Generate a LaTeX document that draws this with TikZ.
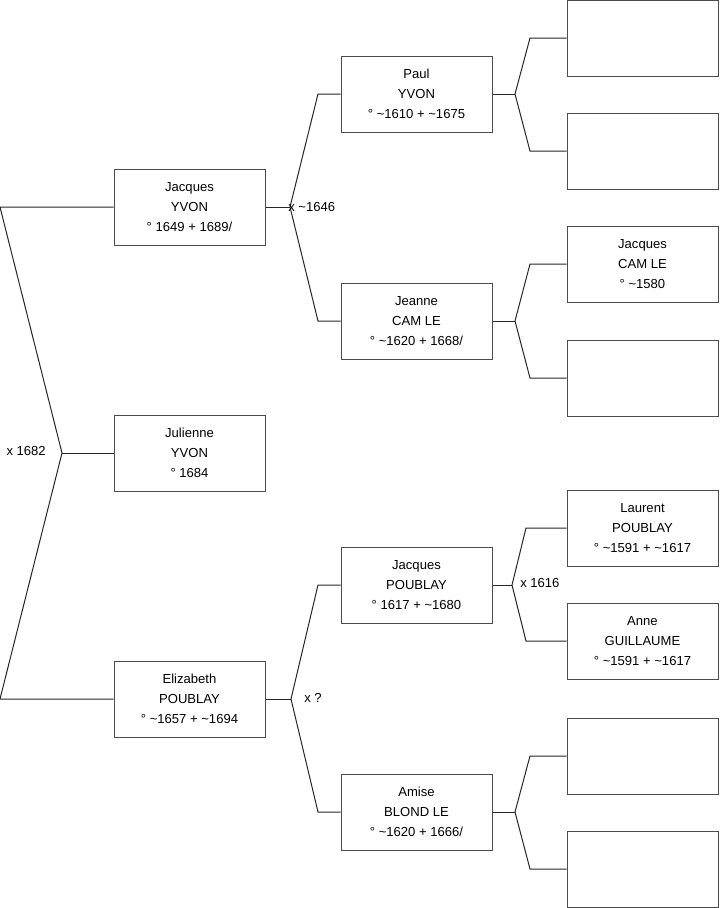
\documentclass[tikz,border=0pt]{standalone}
\usepackage{fontspec}
\setmainfont{Liberation Sans}
\usetikzlibrary{positioning}
\tikzset{
  person/.style={draw=black!70, fill=white, line width=0.75pt,
    minimum width=113.25pt, minimum height=57pt, inner sep=0pt,
    align=center, font=\fontsize{9.8}{15}\selectfont},
  link/.style={draw=black!85, line width=0.75pt},
  union/.style={font=\fontsize{9.8}{11}\selectfont, inner sep=0pt}
}
\begin{document}
\begin{tikzpicture}[x=0.75pt,y=-0.75pt]
\useasboundingbox (0,0) rectangle (719,908);
% generation 1
\node[person] (jacquesY) at (189.5,207) {Jacques\\YVON\\° 1649 + 1689/};
\node[person] (julienne) at (189.5,453) {Julienne\\YVON\\° 1684};
\node[person] (elizabeth) at (189.5,699) {Elizabeth\\POUBLAY\\° \textasciitilde1657 + \textasciitilde1694};
% generation 2
\node[person] (paul) at (416.5,94) {Paul\\YVON\\° \textasciitilde1610 + \textasciitilde1675};
\node[person] (jeanne) at (416.5,321) {Jeanne\\CAM LE\\° \textasciitilde1620 + 1668/};
\node[person] (jacquesP) at (416.5,585) {Jacques\\POUBLAY\\° 1617 + \textasciitilde1680};
\node[person] (amise) at (416.5,812) {Amise\\BLOND LE\\° \textasciitilde1620 + 1666/};
% generation 3
\node[person] (paulF) at (642.5,38) {};
\node[person] (paulM) at (642.5,151) {};
\node[person] (jacquesC) at (642.5,264) {Jacques\\CAM LE\\° \textasciitilde1580};
\node[person] (jeanneM) at (642.5,378) {};
\node[person] (laurent) at (642.5,528) {Laurent\\POUBLAY\\° \textasciitilde1591 + \textasciitilde1617};
\node[person] (anne) at (642.5,641) {Anne\\GUILLAUME\\° \textasciitilde1591 + \textasciitilde1617};
\node[person] (amiseF) at (642.5,756) {};
\node[person] (amiseM) at (642.5,869) {};

% Julienne's parents
\coordinate (topL) at (0,207);
\coordinate (botL) at (0,699);
\coordinate (m1682) at (62,453);
\draw[link] (jacquesY.west) -- (topL) -- (m1682) -- (botL) -- (elizabeth.west);
\draw[link] (m1682) -- (julienne.west);
\node[union, anchor=east] (u1682) at (46,451) {x 1682};

% Jacques YVON's parents
\coordinate (m1646) at (290,207);
\coordinate (kPaul) at (318,94);
\coordinate (kJeanne) at (318,321);
\draw[link] (jacquesY.east) -- (m1646);
\draw[link] (paul.west) -- (kPaul) -- (m1646) -- (kJeanne) -- (jeanne.west);
\node[union, anchor=west] (u1646) at (288,207) {x \textasciitilde1646};

% Elizabeth's parents
\coordinate (mEliz) at (291,699);
\coordinate (kJacquesP) at (318,585);
\coordinate (kAmise) at (318,812);
\draw[link] (elizabeth.east) -- (mEliz);
\draw[link] (jacquesP.west) -- (kJacquesP) -- (mEliz) -- (kAmise) -- (amise.west);
\node[union, anchor=west] (uEliz) at (304,698) {x ?};

% Paul's parents
\coordinate (mPaul) at (515,94);
\draw[link] (paul.east) -- (mPaul);
\draw[link] (paulF.west) -- (530,38) -- (mPaul) -- (530,151) -- (paulM.west);

% Jeanne's parents
\coordinate (mJeanne) at (515,321);
\draw[link] (jeanne.east) -- (mJeanne);
\draw[link] (jacquesC.west) -- (530,264) -- (mJeanne) -- (530,378) -- (jeanneM.west);

% Jacques POUBLAY's parents
\coordinate (m1616) at (512,585);
\draw[link] (jacquesP.east) -- (m1616);
\draw[link] (laurent.west) -- (526,528) -- (m1616) -- (526,641) -- (anne.west);
\node[union, anchor=west] (u1616) at (520,583) {x 1616};

% Amise's parents
\coordinate (mAmise) at (515,812);
\draw[link] (amise.east) -- (mAmise);
\draw[link] (amiseF.west) -- (530,756) -- (mAmise) -- (530,869) -- (amiseM.west);
\end{tikzpicture}
\end{document}
